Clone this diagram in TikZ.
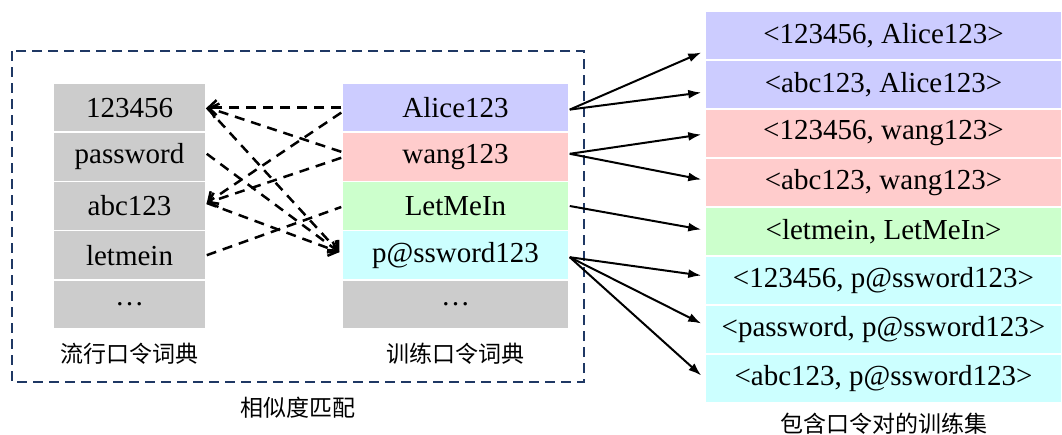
\documentclass[tikz,border=0pt]{standalone}
\usepackage{fontspec}
\setmainfont{Liberation Serif}
\newfontfamily\cjk{Noto Sans CJK SC}
\usetikzlibrary{arrows.meta}
\definecolor{cblue}{RGB}{204,204,255}
\definecolor{cpink}{RGB}{255,204,204}
\definecolor{cgreen}{RGB}{204,255,204}
\definecolor{ccyan}{RGB}{204,255,255}
\definecolor{cgray}{RGB}{204,204,204}
\definecolor{navy}{RGB}{31,56,100}
\begin{document}
\begin{tikzpicture}[x=1pt,y=-1pt,
  cell/.style={draw=white,line width=1.5pt,inner sep=0pt,font=\fontsize{29}{31}\selectfont},
  lcell/.style={cell,minimum width=153pt,minimum height=49.2pt},
  tcell/.style={cell,minimum width=227pt,minimum height=49.2pt},
  rcell/.style={cell,minimum width=357pt,minimum height=49pt},
  dictlabel/.style={font=\cjk\fontsize{23}{25}\selectfont,inner sep=0pt},
  match/.style={line width=2.5pt,dash pattern=on 10pt off 7pt,-{Straight Barb[length=8pt,width=15pt,line width=2.5pt]}},
  nomatch/.style={line width=2.5pt,dash pattern=on 10pt off 7pt},
  gen/.style={line width=2pt,-{Latex[length=13pt,width=9pt]}}
]
\useasboundingbox (0,0) rectangle (1062,434);
% outer dashed box
\draw[navy,line width=1.5pt,dash pattern=on 10pt off 6pt] (12,51) rectangle (584,382);
% popular dictionary
\node[lcell,fill=cgray] (p1) at (129.5,107.6) {123456};
\node[lcell,fill=cgray] (p2) at (129.5,156.8) {password};
\node[lcell,fill=cgray] (p3) at (129.5,206.0) {abc123};
\node[lcell,fill=cgray] (p4) at (129.5,255.2) {letmein};
\node[lcell,fill=cgray] (p5) at (129.5,304.4) {…};
\node[dictlabel] (plab) at (129.5,354) {流行口令词典};
% training dictionary
\node[tcell,fill=cblue] (t1) at (455.5,107.6) {Alice123};
\node[tcell,fill=cpink] (t2) at (455.5,156.8) {wang123};
\node[tcell,fill=cgreen] (t3) at (455.5,206.0) {LetMeIn};
\node[tcell,fill=ccyan] (t4) at (455.5,255.2) {p@ssword123};
\node[tcell,fill=cgray] (t5) at (455.5,304.4) {…};
\node[dictlabel] (tlab) at (455.5,354) {训练口令词典};
\node[dictlabel] (slab) at (298,408) {相似度匹配};
% training set
\node[rcell,fill=cblue] (r1) at (883.5,35.5) {<123456, Alice123>};
\node[rcell,fill=cblue] (r2) at (883.5,84.5) {<abc123, Alice123>};
\node[rcell,fill=cpink] (r3) at (883.5,133.5) {<123456, wang123>};
\node[rcell,fill=cpink] (r4) at (883.5,182.5) {<abc123, wang123>};
\node[rcell,fill=cgreen] (r5) at (883.5,231.5) {<letmein, LetMeIn>};
\node[rcell,fill=ccyan] (r6) at (883.5,280.5) {<123456, p@ssword123>};
\node[rcell,fill=ccyan] (r7) at (883.5,329.5) {<password, p@ssword123>};
\node[rcell,fill=ccyan] (r8) at (883.5,378.5) {<abc123, p@ssword123>};
\node[dictlabel] (rlab) at (883.5,424) {包含口令对的训练集};
% similarity matching (dashed)
\draw[match] (t1.west) -- (p1.east);
\draw[match] ([yshift=5pt]t2.west) -- ([xshift=1pt]p1.east);
\draw[match] ([yshift=-5pt]t1.west) -- ([yshift=3pt]p3.east);
\draw[match] ([yshift=-1pt]t2.west) -- ([yshift=3pt]p3.east);
\draw[match] (p1.east) -- ([xshift=-2pt,yshift=3pt]t4.west);
\draw[match] ([yshift=3pt]p2.east) -- ([xshift=-2pt,yshift=3pt]t4.west);
\draw[match] ([yshift=3pt]p3.east) -- ([xshift=-2pt,yshift=3pt]t4.west);
\draw[nomatch] (p4.east) -- ([yshift=-1pt]t3.west);
% generation of training pairs
\draw[gen] ([yshift=-2pt]t1.east) -- ([xshift=-3pt,yshift=-17pt]r1.west);
\draw[gen] ([yshift=-2pt]t1.east) -- ([xshift=-3pt,yshift=-8pt]r2.west);
\draw[gen] ([yshift=3pt]t2.east) -- ([xshift=-3pt,yshift=-1pt]r3.west);
\draw[gen] ([yshift=3pt]t2.east) -- ([xshift=-3pt,yshift=3pt]r4.west);
\draw[gen] (t3.east) -- ([xshift=-3pt,yshift=2pt]r5.west);
\draw[gen] ([yshift=-2pt]t4.east) -- ([xshift=-3pt,yshift=5pt]r6.west);
\draw[gen] ([yshift=-2pt]t4.east) -- ([xshift=-3pt,yshift=6pt]r7.west);
\draw[gen] ([yshift=-2pt]t4.east) -- ([xshift=-3pt,yshift=3pt]r8.west);
\end{tikzpicture}
\end{document}
